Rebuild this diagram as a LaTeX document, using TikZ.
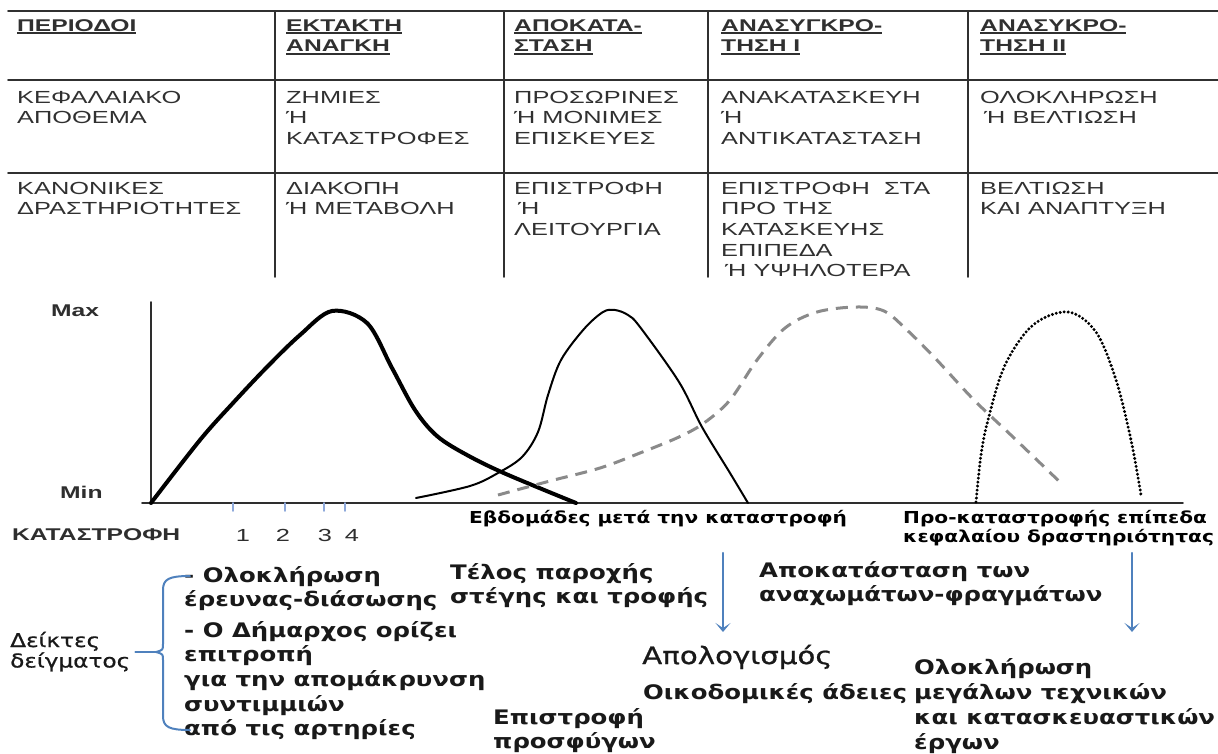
\documentclass[tikz,border=0pt]{standalone}
\usepackage{fontspec}
\usetikzlibrary{arrows.meta}
\newfontfamily\tabfont[FakeStretch=1.45]{Liberation Sans}
\newfontfamily\lblfont[FakeStretch=1.22]{DejaVu Sans}
\newfontfamily\midfont[FakeStretch=1.22, FakeBold=0.8]{DejaVu Sans}
\definecolor{tabgray}{HTML}{303030}
\definecolor{axgray}{HTML}{2E2E2E}
\definecolor{dashgray}{HTML}{8A8A8A}
\definecolor{arrblue}{HTML}{4F81BD}
\definecolor{tickblue}{HTML}{8EA9DB}
% underlined header word
\newsavebox\ulbox
\newcommand\ulbar[1]{\sbox\ulbox{#1}\rlap{\rule[-2.8pt]{\wd\ulbox}{1.4pt}}\usebox\ulbox}
% rows of text: style, name, x, first baseline, baseline step, rows
\newcommand\textrows[6]{%
  \foreach \rowtext [count=\i] in {#6}
    \node[#1] (#2-\i) at (#3,{#4+#5*(\i-1)}) {\rowtext};}
\tikzset{
  tabtxt/.style={anchor=base west, inner sep=0pt, text=tabgray, font=\tabfont\fontsize{17.5}{20}\selectfont},
  tabhead/.style={tabtxt, font=\tabfont\bfseries\fontsize{17}{20}\selectfont},
  tabrule/.style={draw=tabgray, line width=1.8pt},
  axlbl/.style={anchor=base west, inner sep=0pt, text=axgray, font=\tabfont\bfseries\fontsize{17}{20}\selectfont},
  ticklbl/.style={anchor=base, inner sep=0pt, text=axgray, font=\tabfont\fontsize{17.5}{20}\selectfont},
  wklbl/.style={anchor=base west, inner sep=0pt, font=\lblfont\bfseries\fontsize{16.5}{19}\selectfont},
  note/.style={anchor=base west, inner sep=0pt, text=black!90, font=\lblfont\bfseries\fontsize{20}{24}\selectfont},
  bignote/.style={anchor=base west, inner sep=0pt, text=black!90, font=\midfont\fontsize{24}{28}\selectfont},
  sidenote/.style={anchor=base west, inner sep=0pt, text=black!90, font=\midfont\fontsize{19}{22}\selectfont},
  bluearrow/.style={draw=arrblue, line width=2.2pt, -{Stealth[length=9pt,width=15pt,inset=5pt]}},
  bracket/.style={draw=arrblue, line width=2pt}
}
\begin{document}
\begin{tikzpicture}[x=1pt, y=-1pt, line join=round, line cap=round, >=stealth]
  \useasboundingbox (0,0) rectangle (1218,753);
  \def\ca{17}
  \def\cb{286}
  \def\cc{514}
  \def\cd{721}
  \def\ce{980}
  \def\dy{20.7}
  \path
    (8,11) coordinate (TL)
    (1218,11) coordinate (TR)
    (8,80) coordinate (H1L)
    (1218,80) coordinate (H1R)
    (8,173) coordinate (H2L)
    (1218,173) coordinate (H2R)
    ;
  % table
  \draw[tabrule] (TL) -- (TR) (H1L) -- (H1R) (H2L) -- (H2R);
  \foreach \x in {275,504,708,968}
    \draw[tabrule] (\x,11) -- (\x,277);

  \textrows{tabhead}{hA}{\ca}{31}{\dy}{\ulbar{ΠΕΡΙΟΔΟΙ}}
  \textrows{tabhead}{hB}{\cb}{31}{\dy}{\ulbar{ΕΚΤΑΚΤΗ}, \ulbar{ΑΝΑΓΚΗ}}
  \textrows{tabhead}{hC}{\cc}{31}{\dy}{\ulbar{ΑΠΟΚΑΤΑ-}, \ulbar{ΣΤΑΣΗ}}
  \textrows{tabhead}{hD}{\cd}{31}{\dy}{\ulbar{ΑΝΑΣΥΓΚΡΟ-}, \ulbar{ΤΗΣΗ Ι}}
  \textrows{tabhead}{hE}{\ce}{31}{\dy}{\ulbar{ΑΝΑΣΥΚΡΟ-}, \ulbar{ΤΗΣΗ ΙΙ}}

  \textrows{tabtxt}{sA}{\ca}{103}{\dy}{ΚΕΦΑΛΑΙΑΚΟ, ΑΠΟΘΕΜΑ}
  \textrows{tabtxt}{sB}{\cb}{103}{\dy}{ΖΗΜΙΕΣ, Ή, ΚΑΤΑΣΤΡΟΦΕΣ}
  \textrows{tabtxt}{sC}{\cc}{103}{\dy}{ΠΡΟΣΩΡΙΝΕΣ, Ή ΜΟΝΙΜΕΣ, ΕΠΙΣΚΕΥΕΣ}
  \textrows{tabtxt}{sD}{\cd}{103}{\dy}{ΑΝΑΚΑΤΑΣΚΕΥΗ, Ή, ΑΝΤΙΚΑΤΑΣΤΑΣΗ}
  \textrows{tabtxt}{sE}{\ce}{103}{\dy}{ΟΛΟΚΛΗΡΩΣΗ, \hspace*{4pt}Ή ΒΕΛΤΙΩΣΗ}

  \textrows{tabtxt}{aA}{\ca}{194}{\dy}{ΚΑΝΟΝΙΚΕΣ, ΔΡΑΣΤΗΡΙΟΤΗΤΕΣ}
  \textrows{tabtxt}{aB}{\cb}{194}{\dy}{ΔΙΑΚΟΠΗ, Ή ΜΕΤΑΒΟΛΗ}
  \textrows{tabtxt}{aC}{\cc}{194}{\dy}{ΕΠΙΣΤΡΟΦΗ, \hspace*{4pt}Ή, ΛΕΙΤΟΥΡΓΙΑ}
  \begin{scope}
    \clip (709,174) rectangle (967,276);
    \textrows{tabtxt}{aD}{\cd}{194}{\dy}{ΕΠΙΣΤΡΟΦΗ \ ΣΤΑ, ΠΡΟ ΤΗΣ, ΚΑΤΑΣΚΕΥΗΣ, ΕΠΙΠΕΔΑ, \hspace*{4pt}Ή ΥΨΗΛΟΤΕΡΑ}
  \end{scope}
  \textrows{tabtxt}{aE}{\ce}{194}{\dy}{ΒΕΛΤΙΩΣΗ, ΚΑΙ ΑΝΑΠΤΥΞΗ}

  % graph
  \path
    (151,503) coordinate (O)
    (151,302) coordinate (Ytop)
    (142,503) coordinate (Xl)
    (1183,503) coordinate (Xr)
    ;
  \draw[axgray, line width=1.6pt] (Ytop) -- (O) (Xl) -- (Xr);
  \foreach \x in {233,285,324,345}
    \draw[tickblue, line width=1.6pt] (\x,503) -- (\x,511);
  \node[axlbl] (max) at (51,316) {Max};
  \node[axlbl] (min) at (60,498) {Min};
  \node[axlbl] (kat) at (12,540) {ΚΑΤΑΣΤΡΟΦΗ};
  \foreach \n/\x in {1/243,2/283,3/325,4/352}
    \node[ticklbl] (t\n) at (\x,541) {\n};

  \draw[black, line width=4pt] plot[smooth, tension=0.55] coordinates {(O) (200,440) (233,403) (267,367) (300,335) (332,311) (367,323) (392,368) (415,410) (437,436) (467,455) (506,474) (576,503)};
  \draw[black, line width=2pt] plot[smooth, tension=0.55] coordinates {(416,498) (470,486) (498,473) (522,457) (538,432) (548,395) (561,360) (584,329) (603,312) (615,310) (628,315) (640,327) (679,382) (702,427) (730,473) (748,503)};
  \draw[dashgray, line width=3pt, dash pattern=on 12pt off 8pt, line cap=butt] plot[smooth, tension=0.55] coordinates {(498,495) (550,481) (600,468) (640,453) (679,437) (704,423) (730,400) (757,360) (785,328) (817,312) (856,307) (884,311) (907,330) (935,358) (974,400) (1013,437) (1063,485)};
  \draw[black, line width=3.3pt, dash pattern=on 0pt off 4pt] plot[smooth, tension=0.55] coordinates {(976,502) (981,455) (988,420) (1005,365) (1033,325) (1068,312) (1096,332) (1116,380) (1131,440) (1141,495)};

  \node[wklbl] (wk) at (469,523) {Εβδομάδες μετά την καταστροφή};
  \textrows{wklbl}{pre}{903}{523}{19.5}{Προ-καταστροφής επίπεδα, κεφαλαίου δραστηριότητας}

  % notes below the graph
  \textrows{sidenote}{dkt}{10}{647}{20.5}{Δείκτες, δείγματος}
  \textrows{note}{lsA}{184}{582}{24.5}{- Ολοκλήρωση, έρευνας-διάσωσης}
  \textrows{note}{lsB}{184}{637}{24.7}{- Ο Δήμαρχος ορίζει, επιτροπή, για την απομάκρυνση, συντιμμιών, από τις αρτηρίες}
  \textrows{note}{tel}{450}{579}{24.5}{Τέλος παροχής, στέγης και τροφής}
  \textrows{note}{apo}{759}{577}{24.5}{Αποκατάσταση των, αναχωμάτων-φραγμάτων}
  \node[bignote] (apol) at (642,664) {Απολογισμός};
  \node[note] (oik) at (643,699) {Οικοδομικές άδειες};
  \textrows{note}{epi}{493}{724}{24.5}{Επιστροφή, προσφύγων}
  \textrows{note}{olo}{914}{674}{25}{Ολοκλήρωση, μεγάλων τεχνικών, και κατασκευαστικών, έργων}

  \path
    (723,553) coordinate (a1top)
    (723,632) coordinate (a1bot)
    (1132,553) coordinate (a2top)
    (1132,632) coordinate (a2bot)
    (190,576) coordinate (brT)
    (190,730) coordinate (brB)
    (156,652) coordinate (brtip)
    ([xshift=5pt]dkt-2.east |- brtip) coordinate (brstub)
    ;
  \draw[bluearrow] (a1top) -- (a1bot);
  \draw[bluearrow] (a2top) -- (a2bot);
  \draw[bracket] (brT) .. controls (169,576) and (163,579) .. (163,590) -- (163,644) .. controls (163,650) .. (brtip) .. controls (163,654) .. (163,660) -- (163,716) .. controls (163,727) and (169,730) .. (brB);
  \draw[bracket] (brstub) -- (brtip);
\end{tikzpicture}
\end{document}
